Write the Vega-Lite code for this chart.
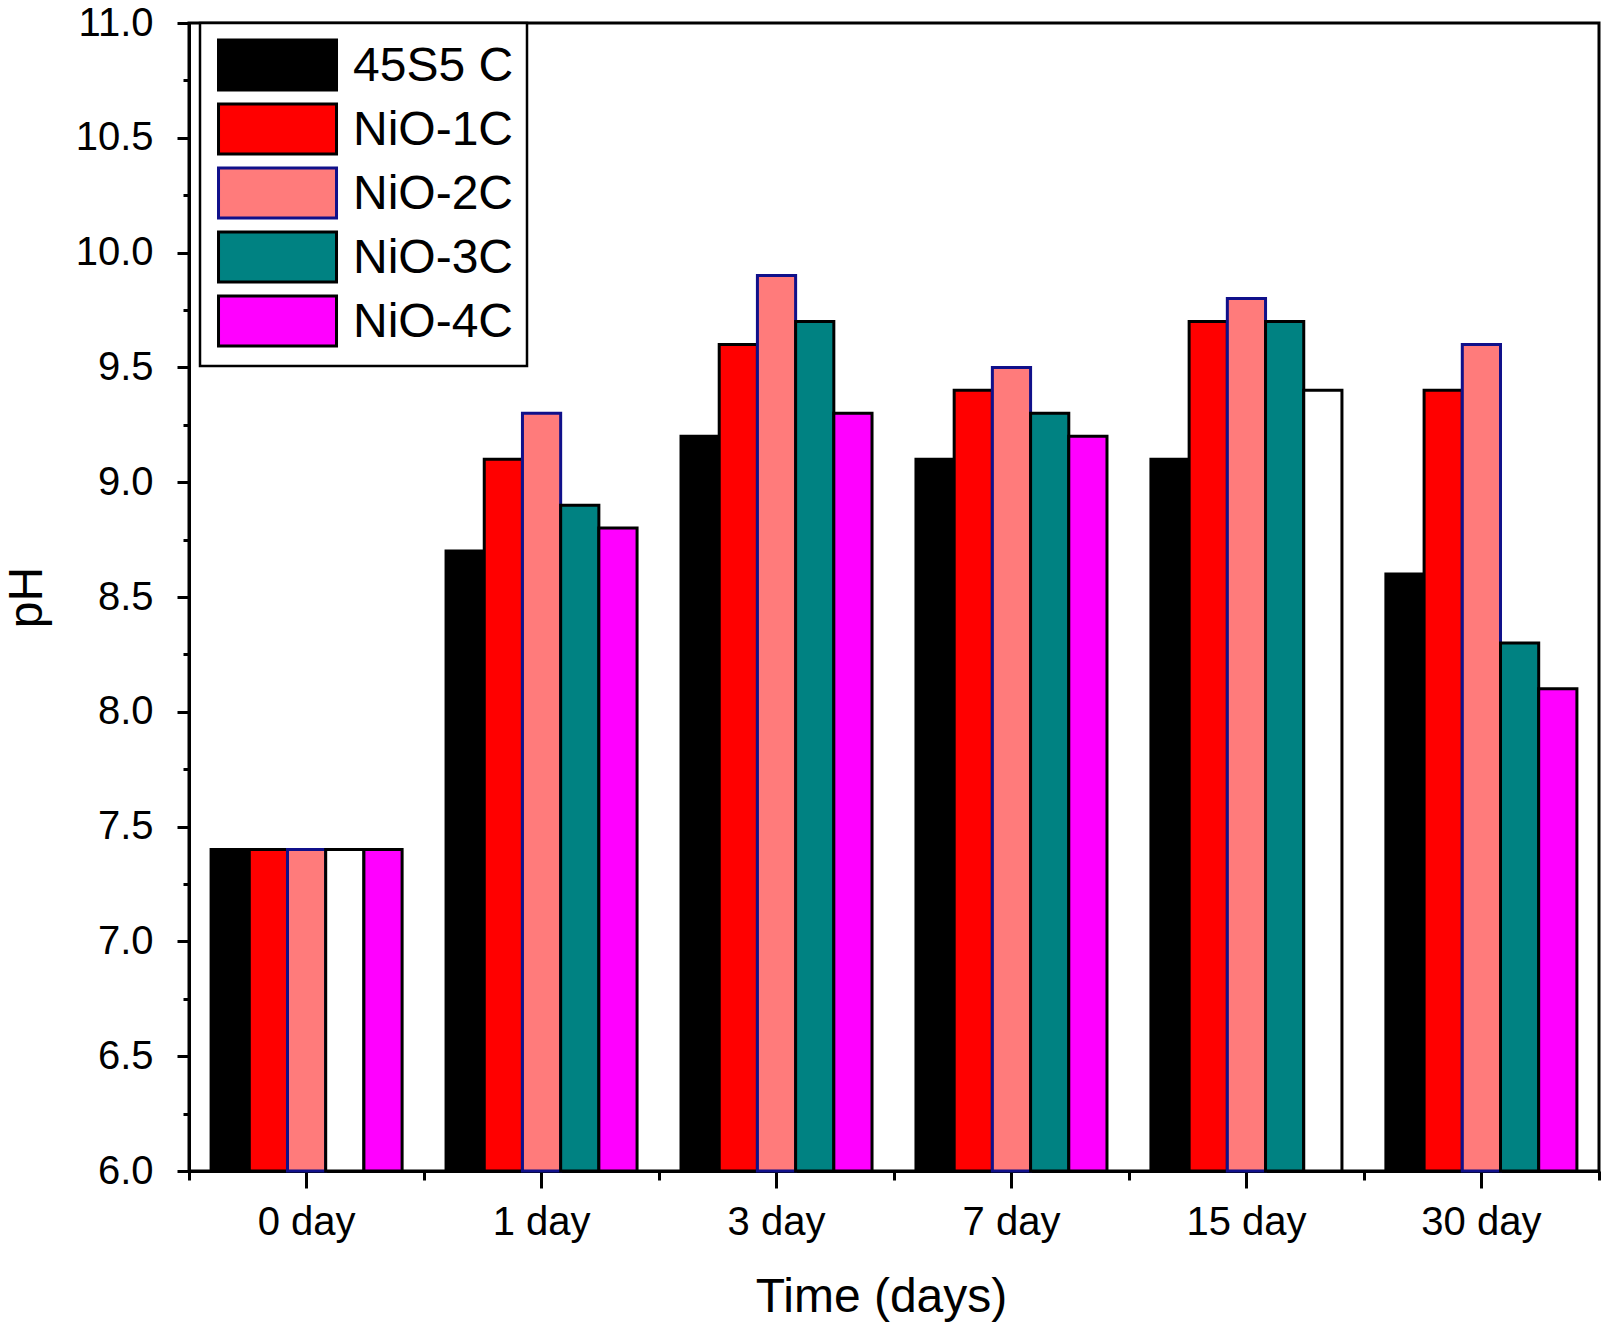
{
  "$schema": "https://vega.github.io/schema/vega-lite/v6.json",
  "width": 1410,
  "height": 1148,
  "autosize": {"type": "none"},
  "padding": {"left": 189, "top": 23, "right": 3, "bottom": 153},
  "background": "white",
  "config": {
    "font": "Liberation Sans",
    "view": {"stroke": "black", "strokeWidth": 3},
    "axis": {
      "grid": false,
      "domainColor": "black",
      "domainWidth": 3,
      "tickColor": "black",
      "tickWidth": 3,
      "labelColor": "black",
      "labelFont": "Liberation Sans",
      "labelFontSize": 40,
      "titleColor": "black",
      "titleFont": "Liberation Sans",
      "titleFontSize": 48,
      "titleFontWeight": "normal"
    },
    "legend": {
      "strokeColor": "black",
      "padding": 13,
      "rowPadding": 0,
      "symbolType": "M-0.864,-0.918H3.136V0.782H-0.864Z",
      "symbolSize": 3481,
      "symbolStrokeWidth": 3,
      "symbolOpacity": 1,
      "labelFont": "Liberation Sans",
      "labelFontSize": 48,
      "labelColor": "black",
      "labelOffset": 78,
      "labelLimit": 500,
      "fillColor": "white"
    }
  },
  "data": {
    "values": [
      {"time": "0 day", "series": "45S5 C", "pH": 7.4},
      {"time": "0 day", "series": "NiO-1C", "pH": 7.4},
      {"time": "0 day", "series": "NiO-2C", "pH": 7.4},
      {"time": "0 day", "series": "NiO-3C", "pH": 7.4},
      {"time": "0 day", "series": "NiO-4C", "pH": 7.4},
      {"time": "1 day", "series": "45S5 C", "pH": 8.7},
      {"time": "1 day", "series": "NiO-1C", "pH": 9.1},
      {"time": "1 day", "series": "NiO-2C", "pH": 9.3},
      {"time": "1 day", "series": "NiO-3C", "pH": 8.9},
      {"time": "1 day", "series": "NiO-4C", "pH": 8.8},
      {"time": "3 day", "series": "45S5 C", "pH": 9.2},
      {"time": "3 day", "series": "NiO-1C", "pH": 9.6},
      {"time": "3 day", "series": "NiO-2C", "pH": 9.9},
      {"time": "3 day", "series": "NiO-3C", "pH": 9.7},
      {"time": "3 day", "series": "NiO-4C", "pH": 9.3},
      {"time": "7 day", "series": "45S5 C", "pH": 9.1},
      {"time": "7 day", "series": "NiO-1C", "pH": 9.4},
      {"time": "7 day", "series": "NiO-2C", "pH": 9.5},
      {"time": "7 day", "series": "NiO-3C", "pH": 9.3},
      {"time": "7 day", "series": "NiO-4C", "pH": 9.2},
      {"time": "15 day", "series": "45S5 C", "pH": 9.1},
      {"time": "15 day", "series": "NiO-1C", "pH": 9.7},
      {"time": "15 day", "series": "NiO-2C", "pH": 9.8},
      {"time": "15 day", "series": "NiO-3C", "pH": 9.7},
      {"time": "15 day", "series": "NiO-4C", "pH": 9.4},
      {"time": "30 day", "series": "45S5 C", "pH": 8.6},
      {"time": "30 day", "series": "NiO-1C", "pH": 9.4},
      {"time": "30 day", "series": "NiO-2C", "pH": 9.6},
      {"time": "30 day", "series": "NiO-3C", "pH": 8.3},
      {"time": "30 day", "series": "NiO-4C", "pH": 8.1}
    ]
  },
  "layer": [
    {
      "mark": {"type": "bar", "strokeWidth": 3, "opacity": 1},
      "encoding": {
        "x": {
          "field": "time",
          "type": "nominal",
          "sort": ["0 day", "1 day", "3 day", "7 day", "15 day", "30 day"],
          "scale": {"paddingInner": 0.187, "paddingOuter": 0.094},
          "axis": {
            "orient": "bottom",
            "title": "Time (days)",
            "labelAngle": 0,
            "tickSize": 17,
            "labelPadding": 14,
            "titlePadding": 31,
            "titleX": 692
          }
        },
        "xOffset": {
          "field": "series",
          "type": "nominal",
          "sort": ["45S5 C", "NiO-1C", "NiO-2C", "NiO-3C", "NiO-4C"],
          "scale": {"paddingInner": 0, "paddingOuter": 0}
        },
        "y": {
          "field": "pH",
          "type": "quantitative",
          "scale": {"domain": [6, 11], "zero": false, "nice": false},
          "axis": {
            "orient": "left",
            "title": "pH",
            "values": [6, 6.5, 7, 7.5, 8, 8.5, 9, 9.5, 10, 10.5, 11],
            "format": ".1f",
            "tickSize": 12,
            "labelPadding": 24,
            "titlePadding": 24
          }
        },
        "y2": {"datum": 6},
        "fill": {
          "condition": {
            "test": "(datum.time === '0 day' && datum.series === 'NiO-3C') || (datum.time === '15 day' && datum.series === 'NiO-4C')",
            "value": "white"
          },
          "field": "series",
          "type": "nominal",
          "scale": {
            "domain": ["45S5 C", "NiO-1C", "NiO-2C", "NiO-3C", "NiO-4C"],
            "range": ["#000000", "#ff0000", "#ff7b7b", "#008282", "#ff00ff"]
          },
          "legend": {
            "title": null,
            "orient": "none",
            "legendX": 11,
            "legendY": 0,
            "labelExpr": "datum.label + '\u00a0'",
            "encode": {
              "legend": {"update": {"strokeWidth": {"value": 2.5}}}
            }
          }
        },
        "stroke": {
          "field": "series",
          "type": "nominal",
          "scale": {
            "domain": ["45S5 C", "NiO-1C", "NiO-2C", "NiO-3C", "NiO-4C"],
            "range": ["#000000", "#000000", "#10108a", "#000000", "#000000"]
          },
          "legend": {
            "title": null,
            "orient": "none",
            "legendX": 11,
            "legendY": 0,
            "labelExpr": "datum.label + '\u00a0'",
            "encode": {
              "legend": {"update": {"strokeWidth": {"value": 2.5}}}
            }
          }
        }
      }
    },
    {
      "mark": {"type": "bar", "opacity": 0},
      "encoding": {
        "x": {
          "field": "time",
          "type": "nominal",
          "sort": ["0 day", "1 day", "3 day", "7 day", "15 day", "30 day"],
          "axis": {
            "orient": "bottom",
            "title": null,
            "labels": false,
            "domain": false,
            "bandPosition": 0,
            "tickOffset": -22,
            "tickSize": 9
          }
        },
        "y": {
          "field": "pH",
          "type": "quantitative",
          "axis": {
            "orient": "left",
            "title": null,
            "labels": false,
            "domain": false,
            "values": [6.25, 6.75, 7.25, 7.75, 8.25, 8.75, 9.25, 9.75, 10.25, 10.75],
            "tickSize": 6
          }
        },
        "y2": {"datum": 6}
      }
    },
    {
      "mark": {"type": "bar", "opacity": 0},
      "encoding": {
        "x": {
          "field": "time",
          "type": "nominal",
          "sort": ["0 day", "1 day", "3 day", "7 day", "15 day", "30 day"],
          "axis": {
            "orient": "bottom",
            "title": null,
            "labels": false,
            "domain": false,
            "values": ["30 day"],
            "bandPosition": 1,
            "tickOffset": 22,
            "tickSize": 9
          }
        }
      }
    }
  ],
  "resolve": {"axis": {"x": "independent", "y": "independent"}}
}
